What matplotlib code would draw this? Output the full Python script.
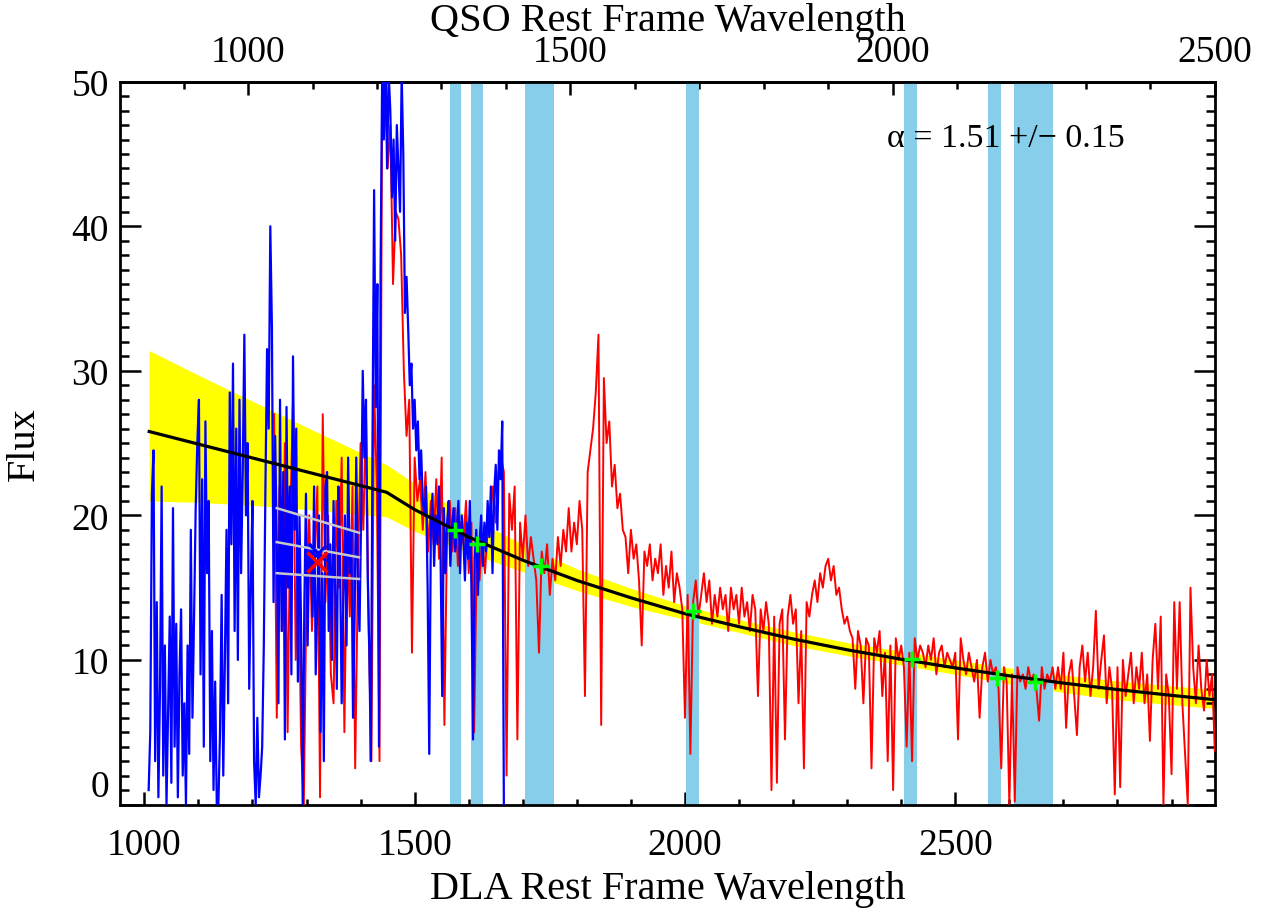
import numpy as np
import matplotlib
matplotlib.use('Agg')
import matplotlib.pyplot as plt
from matplotlib.ticker import MultipleLocator

plt.rcParams['font.family'] = ['Liberation Serif', 'DejaVu Serif']

# DLA rest frame -> QSO rest frame: lambda_qso = lambda_dla / frame_ratio
frame_ratio = 1.192

# Blue spectrum (forest side), DLA rest frame, 3 A pixels from 1008 to 1665
blue_wave = np.arange(1008, 1666, 3)
blue_flux = [
    1.0, 5.0, 21.5, 24.5, 3.0, 14.0, 0.5, 8.0, 22.0, 2.0,
    11.0, 0.0, 6.5, 13.0, 1.5, 20.5, 4.0, 12.5, 0.5, 9.0,
    13.5, 2.0, 7.0, 0.0, 11.0, 3.5, 19.0, 6.0, 13.0, 20.5,
    25.0, 28.0, 9.0, 22.5, 4.0, 26.5, 16.0, 21.0, 3.0, 12.0,
    1.0, 8.5, 0.0, 0.0, 5.0, 14.5, 2.0, 10.0, 19.0, 7.0,
    28.5, 18.0, 30.5, 12.0, 26.0, 10.0, 28.0, 16.0, 23.0, 32.5,
    20.0, 25.0, 8.0, 15.0, 21.0, 3.0, 0.0, 6.0, 0.5, 2.0,
    4.0, 11.0, 22.0, 31.5, 26.0, 40.0, 33.0, 14.0, 25.5, 18.0,
    7.0, 28.0, 12.0, 23.0, 4.5, 27.5, 15.0, 22.0, 9.0, 31.0,
    19.0, 26.0, 8.5, 20.0, 12.0, 0.0, 14.0, 21.5, 11.0, 18.0,
    18.0, 13.0, 22.0, 9.0, 14.0, 20.0, 5.0, 16.0, 3.0, 22.0,
    23.0, 12.0, 18.0, 10.0, 21.0, 15.0, 8.0, 22.0, 17.0, 7.0,
    14.0, 20.0, 11.0, 24.0, 16.0, 19.0, 6.0, 13.0, 24.0, 15.0,
    12.0, 20.0, 30.0, 24.0, 28.0, 16.0, 11.0, 3.0, 25.0, 42.5,
    27.5, 36.0, 4.0, 37.0, 51.0, 46.0, 52.0, 44.0, 50.5, 48.0,
    42.0, 46.0, 39.0, 47.0, 44.0, 41.0, 50.5, 45.0, 34.0, 36.5,
    33.0, 29.0, 30.5, 26.0, 28.0, 24.5, 26.5, 22.5, 24.5, 21.0,
    20.0, 22.0, 15.0, 3.5, 19.0, 21.5, 16.5, 20.0, 18.0, 22.0,
    17.0, 7.5, 20.5, 16.0, 19.5, 21.0, 16.5, 19.0, 20.5, 17.5,
    19.0, 21.0, 16.0, 20.0, 18.5, 15.5, 19.5, 17.0, 21.0, 15.0,
    4.5, 17.0, 19.0, 14.5, 18.0, 20.0, 16.5, 19.5, 17.5, 21.0,
    18.5, 22.0, 16.0, 21.5, 23.5, 19.0, 24.5, 22.5, 26.5, 0.0,
]

# Red spectrum, DLA rest frame, 5 A pixels from 1240 to 2980
red_wave = np.arange(1240, 2981, 5)
red_flux = [
    27.0, 6.0, 22.0, 12.0, 25.0, 5.0, 20.0, 28.0, 10.0, 18.0,
    4.0, 0.0, 15.0, 20.0, 12.0, 17.0, 22.0, 0.5, 27.0, 14.0,
    20.0, 9.0, 7.0, 21.0, 15.0, 24.0, 5.0, 19.0, 13.0, 22.0,
    2.5, 16.0, 25.0, 19.0, 27.0, 12.0, 3.0, 29.0, 22.0, 3.0,
    51.0, 52.0, 44.0, 47.0, 36.0, 41.0, 40.5, 38.0, 30.0, 25.5,
    28.0, 10.5, 24.0, 21.0, 22.5, 19.0, 23.0, 17.5, 21.0, 18.0,
    22.5, 17.0, 24.0, 5.5, 19.0, 21.0, 17.5, 20.5, 16.5, 19.5,
    18.0, 21.0, 16.0, 19.5, 5.0, 17.5, 15.5, 18.5, 16.0, 19.0,
    20.0, 22.0, 19.5, 23.0, 24.0, 23.0, 2.0, 21.5, 19.0, 22.0,
    4.5, 19.5, 17.0, 20.0, 16.5, 18.5, 17.0, 15.5, 10.5, 17.5,
    16.0, 18.0, 14.5, 17.0, 15.5, 18.5, 16.5, 19.0, 17.5, 20.5,
    17.5, 19.5, 18.0, 21.0, 19.0, 7.5, 23.0, 24.5, 26.0, 28.5,
    32.5, 5.5, 29.5, 25.0, 26.5, 22.0, 23.5, 20.5, 21.5, 19.0,
    18.5, 16.0, 19.0, 17.0, 18.0, 15.5, 11.0, 17.5, 16.5, 18.0,
    15.5, 17.0, 16.0, 18.0, 14.5, 16.5, 15.0, 17.5, 14.0, 16.0,
    15.0, 13.5, 6.0, 14.5, 3.5, 14.0, 15.5, 13.0, 14.5, 16.0,
    14.0, 15.5, 12.5, 14.5, 13.0, 15.0, 13.5, 14.5, 12.0, 15.0,
    13.5, 14.5, 12.5, 15.0, 13.0, 14.0, 12.0, 14.5, 13.5, 7.5,
    13.5, 12.0, 14.0, 12.5, 1.0, 13.0, 1.5, 12.5, 13.5, 4.5,
    13.0, 14.5, 12.5, 13.5, 7.0, 12.0, 2.5, 14.0, 13.0, 14.5,
    15.5, 14.0, 16.0, 15.0, 16.5, 17.0, 15.5, 16.5, 14.5, 15.0,
    13.5, 12.5, 13.0, 12.0, 11.5, 8.0, 12.0, 11.0, 7.0, 11.5,
    11.0, 2.5, 11.5, 10.5, 12.0, 7.5, 10.5, 3.0, 11.0, 1.0,
    11.5, 10.0, 11.0, 9.5, 4.0, 10.5, 3.0, 11.5, 10.0, 11.0,
    10.5, 9.5, 11.0, 10.0, 11.5, 9.0, 10.5, 11.0, 9.5, 10.5,
    10.0, 9.5, 10.5, 4.5, 11.5, 10.0, 9.0, 10.5, 9.5, 8.5,
    10.0, 6.0, 9.5, 10.5, 8.5, 10.0, 9.0, 9.5, 8.0, 2.5,
    9.5, 8.5, 0.0, 9.0, 0.2, 9.5, 8.5, 9.0, 8.0, 9.5,
    8.5, 9.0, 8.0, 5.8, 9.5, 8.0, 9.0, 8.5, 9.5, 8.0,
    9.5, 8.0, 10.5, 5.3, 9.0, 10.0, 7.5, 4.8, 9.5, 11.0,
    8.5, 10.5, 7.5, 9.5, 13.4, 8.0, 10.0, 11.7, 7.0, 9.5,
    8.0, 0.7, 9.5, 1.2, 10.0, 7.5, 9.0, 10.5, 7.0, 9.5,
    8.0, 10.5, 7.0, 9.0, 4.4, 10.0, 12.5, 8.0, 13.0, 0.0,
    9.0, 7.5, 2.1, 14.0, 8.0, 14.0, 7.0, 3.5, 0.0, 15.0,
    9.5, 7.0, 11.0, 8.0, 6.5, 10.0, 7.5, 9.0, 3.7,
]

# power-law continuum fit
cont_wave = [1009, 1448, 1500, 1600, 1700, 1800, 1900, 2000, 2100, 2200,
             2300, 2400, 2500, 2600, 2700, 2800, 2900, 2980]
cont_flux = [25.8, 21.6, 20.4, 18.5, 16.9, 15.5, 14.3, 13.2, 12.3, 11.45,
             10.7, 10.05, 9.45, 8.9, 8.4, 7.95, 7.55, 7.25]

# uncertainty band of the fit
band_wave = [1009, 1100, 1200, 1300, 1448, 1500, 1600, 1700, 1800, 1900, 2000,
             2100, 2200, 2300, 2400, 2500, 2600, 2700, 2800, 2900, 2980]
band_hi = [31.4, 29.7, 27.9, 26.1, 23.5, 22.2, 19.9, 18.0, 16.3, 14.95, 13.75,
           12.8, 11.95, 11.2, 10.6, 10.0, 9.45, 8.95, 8.55, 8.2, 7.95]
band_lo = [21.0, 20.9, 20.7, 20.4, 19.9, 18.9, 17.4, 16.1, 14.8, 13.7, 12.8,
           11.9, 11.0, 10.3, 9.65, 9.0, 8.35, 7.75, 7.25, 6.9, 6.65]

# continuum windows (DLA rest frame)
win_lo = [1565, 1604, 1705, 2002, 2406, 2561, 2609]
win_hi = [1585, 1627, 1758, 2026, 2430, 2585, 2681]

# continuum flux measured in each window
node_wave = [1575, 1616, 1733, 2014, 2420, 2577, 2648]
node_flux = [19.0, 18.0, 16.5, 13.4, 10.05, 8.75, 8.5]

# forest mean flux estimate and its range
grey_wave = [1245, 1397]
grey_hi = [20.5, 18.8]
grey_mid = [18.15, 17.1]
grey_lo = [16.0, 15.6]
forest_wave, forest_red, forest_blue = 1319, 16.8, 17.4

fig = plt.figure(figsize=(12.77, 9.12), dpi=100)
ax = fig.add_axes([120 / 1277, 1 - 805.5 / 912, 1094.8 / 1277, 722.8 / 912])

ax.fill_between(band_wave, band_lo, band_hi, color='#FFFF00', lw=0, zorder=1)
for lo, hi in zip(win_lo, win_hi):
    ax.axvspan(lo, hi, color='#87CEEB', lw=0, zorder=2)
ax.plot(red_wave, red_flux, color='#FF0000', lw=1.4, zorder=3)
ax.plot(blue_wave, blue_flux, color='#0000FF', lw=1.6, zorder=4)
ax.plot(cont_wave, cont_flux, color='black', lw=2.3, zorder=5)
for g in (grey_hi, grey_mid, grey_lo):
    ax.plot(grey_wave, g, color='#C8C8C8', lw=1.8, zorder=6)
ax.plot(forest_wave + 2, forest_blue, 'x', color='#0000FF', ms=12, mew=2.2, zorder=6)
ax.plot(forest_wave, forest_red, 'x', color='#FF0000', ms=14, mew=2.5, zorder=7)
ax.plot(node_wave, node_flux, '+', color='#00FF00', ms=11, mew=2.5, zorder=8)

ax.text(2374, 45.57, 'α = 1.51 +/− 0.15', fontsize=24.5, ha='left', va='baseline', zorder=10)

ax.set_xlim(955, 2980)
ax.set_ylim(0, 50)

for s in ax.spines.values():
    s.set_linewidth(2)

ax.xaxis.set_major_locator(MultipleLocator(500))
ax.xaxis.set_minor_locator(MultipleLocator(100))
ax.set_yticks([0, 10, 20, 30, 40, 50])
ax.set_yticklabels(['0', '10', '20', '30', '40', '50'])
ax.yaxis.set_minor_locator(MultipleLocator(1))
ax.tick_params(axis='x', which='both', direction='in', top=False, bottom=True,
               labelsize=27, width=1.8)
ax.tick_params(axis='x', which='major', length=9.6, pad=16.5)
ax.tick_params(axis='x', which='minor', length=4.5)
ax.tick_params(axis='y', which='both', direction='in', left=True, right=True,
               labelsize=27, width=1.8)
ax.tick_params(axis='y', which='major', length=15, pad=8)
ax.tick_params(axis='y', which='minor', length=6.7)
ax.get_yticklabels()[0].set_verticalalignment('bottom')

ax.set_xlabel('DLA Rest Frame Wavelength', fontsize=29)
ax.xaxis.label.set_verticalalignment('baseline')
ax.xaxis.set_label_coords(0.5, -0.1294)
ax.set_ylabel('Flux', fontsize=29)
ax.yaxis.label.set_verticalalignment('center')
ax.yaxis.set_label_coords(-0.0877, 0.5)

top = ax.secondary_xaxis('top', functions=(lambda x: x / frame_ratio,
                                           lambda x: x * frame_ratio))
top.xaxis.set_major_locator(MultipleLocator(500))
top.xaxis.set_minor_locator(MultipleLocator(100))
top.tick_params(axis='x', which='both', direction='in', labelsize=27, width=1.8)
top.tick_params(axis='x', which='major', length=9.6, pad=9)
top.tick_params(axis='x', which='minor', length=4.8)
top.spines['top'].set_linewidth(2)
top.set_xlabel('QSO Rest Frame Wavelength', fontsize=29)
top.xaxis.label.set_verticalalignment('baseline')
top.xaxis.set_label_coords(0.5, 1.0722, transform=ax.transAxes)

fig.savefig('out.png', dpi=100)
